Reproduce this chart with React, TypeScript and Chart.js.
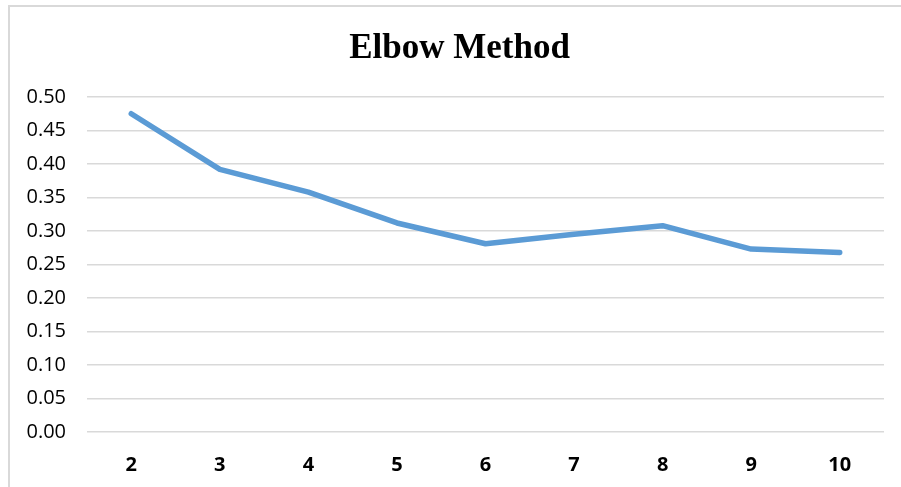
import React, { useEffect, useRef } from "react";
import { Chart, registerables } from "chart.js";

Chart.register(...registerables);

const chartTitle = "Elbow Method";
const clusterCounts = ["2", "3", "4", "5", "6", "7", "8", "9", "10"];
const scores = [0.475, 0.392, 0.358, 0.312, 0.281, 0.295, 0.308, 0.273, 0.268];
const yMin = 0;
const yMax = 0.5;
const yStep = 0.05;

const borderPlugin = {
  id: "outerBorder",
  beforeDraw(chart: any) {
    const ctx = chart.ctx;
    ctx.save();
    ctx.strokeStyle = "#d9d9d9";
    ctx.lineWidth = 2;
    ctx.beginPath();
    ctx.moveTo(9, 487);
    ctx.lineTo(9, 6);
    ctx.lineTo(901, 6);
    ctx.stroke();
    ctx.restore();
  },
};

const titlePlugin = {
  id: "offsetTitle",
  afterDraw(chart: any) {
    const ctx = chart.ctx;
    ctx.save();
    ctx.fillStyle = "#000";
    ctx.font = "bold 35px 'Liberation Serif', 'Times New Roman', serif";
    ctx.textAlign = "center";
    ctx.textBaseline = "alphabetic";
    ctx.fillText(chartTitle, 459.5, 58);
    ctx.restore();
  },
};

export default function App() {
  const canvasRef = useRef<HTMLCanvasElement | null>(null);

  useEffect(() => {
    if (!canvasRef.current) return;
    const chart = new Chart(canvasRef.current, {
      type: "line",
      data: {
        labels: clusterCounts,
        datasets: [
          {
            data: scores,
            borderColor: "#5B9BD5",
            backgroundColor: "#5B9BD5",
            borderWidth: 5.5,
            pointRadius: 0,
            tension: 0,
            borderCapStyle: "round",
            borderJoinStyle: "round",
            fill: false,
          },
        ],
      },
      options: {
        animation: false,
        responsive: false,
        layout: { padding: { left: 0, right: 17, top: 97, bottom: 0 } },
        plugins: {
          legend: { display: false },
          tooltip: { enabled: false },
          title: { display: false },
        },
        scales: {
          x: {
            offset: true,
            grid: { display: false },
            border: { display: false },
            ticks: {
              color: "#000",
              padding: 13,
              font: { family: "'Open Sans', sans-serif", size: 20, weight: "bold" },
            },
            afterFit(scale: any) {
              scale.height = 55;
            },
          },
          y: {
            min: yMin,
            max: yMax,
            border: { display: false },
            grid: { color: "#d9d9d9", lineWidth: 1.5, drawTicks: false },
            ticks: {
              stepSize: yStep,
              padding: 21,
              color: "#000",
              font: { family: "'Open Sans', sans-serif", size: 20 },
              callback: (v: any) => Number(v).toFixed(2),
            },
            afterFit(scale: any) {
              scale.width = 87;
            },
          },
        },
      },
      plugins: [borderPlugin, titlePlugin],
    });
    return () => chart.destroy();
  }, []);

  return (
    <canvas
      ref={canvasRef}
      width={901}
      height={487}
      style={{ position: "fixed", left: 0, top: 0, width: "901px", height: "487px" }}
    />
  );
}
